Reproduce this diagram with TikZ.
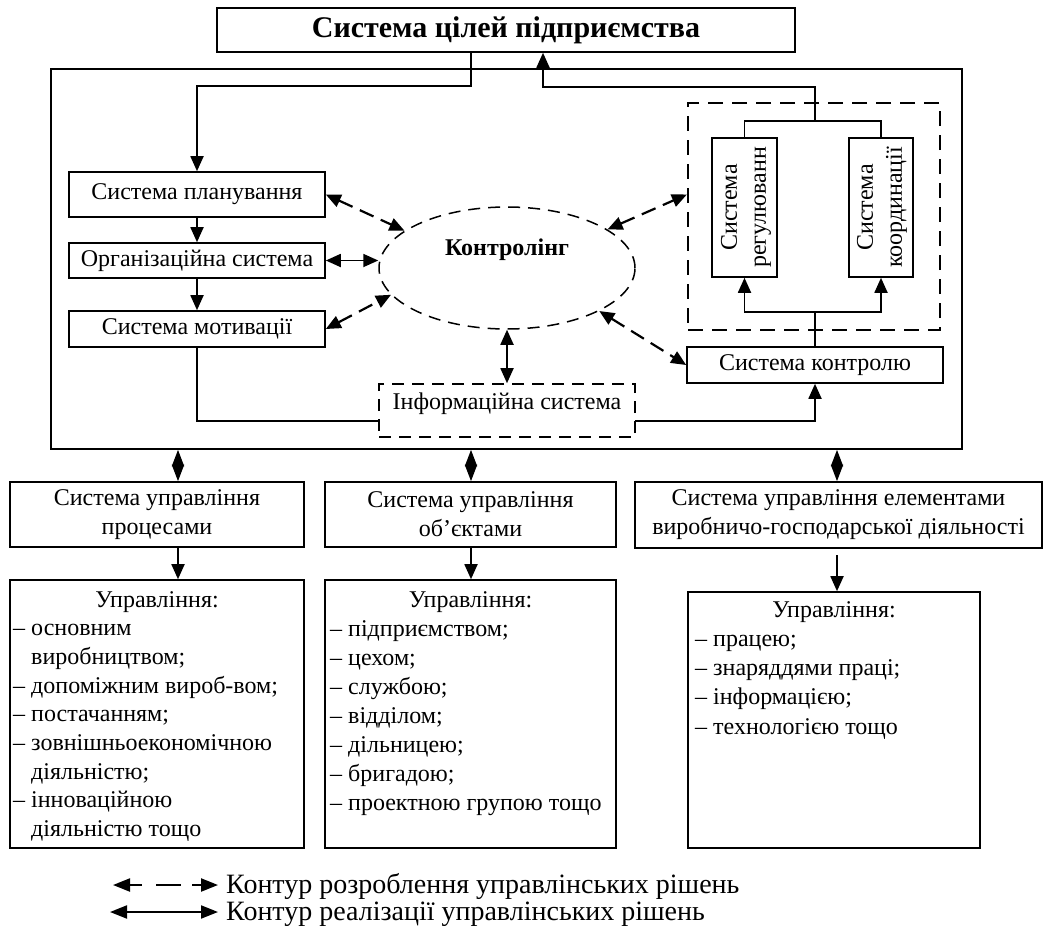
\documentclass[tikz,border=0pt]{standalone}
\usepackage{fontspec}
\setmainfont{Liberation Serif}
\usetikzlibrary{arrows.meta,shapes.geometric}
\begin{document}
\begin{tikzpicture}[x=1pt,y=-1pt,
  every node/.style={inner sep=0pt},
  txt/.style={font=\fontsize{24}{29}\selectfont},
  box/.style={draw, line width=1.6pt, txt, align=center},
  dashbox/.style={draw, line width=1.8pt, dash pattern=on 13pt off 8pt},
  ln/.style={line width=1.8pt},
  ar/.style={line width=1.8pt, -{Triangle[length=15pt,width=13pt]}},
  sar/.style={line width=1.8pt, {Triangle[length=15pt,width=13pt]}-{Triangle[length=15pt,width=13pt]}},
  dar/.style={line width=2.2pt, dash pattern=on 15pt off 8pt, {Triangle[length=15pt,width=13pt]}-{Triangle[length=15pt,width=13pt]}},
  dia/.style={line width=1.8pt, {Triangle[length=16.5pt,width=12pt]}-{Triangle[length=16.5pt,width=12pt]}},
  ldar/.style={line width=2.2pt, dash pattern=on 13pt off 14pt on 25pt off 11pt on 30pt, {Triangle[length=17pt,width=13pt]}-{Triangle[length=17pt,width=13pt]}},
  lsar/.style={line width=2pt, {Triangle[length=17pt,width=13pt]}-{Triangle[length=17pt,width=13pt]}}
]
\useasboundingbox (0,0) rectangle (1044,926);

% outer frame
\node[draw, line width=1.6pt, minimum width=911, minimum height=380] (outer) at (506.5,259) {};

% top goal box
\node[box, minimum width=578, minimum height=44, font=\bfseries\fontsize{30}{36}\selectfont] (goal) at (506,30) {Система цілей підприємства};

% left chain
\node[box, minimum width=256, minimum height=45] (plan) at (197,194.5) {Система планування};
\node[box, minimum width=256, minimum height=35] (org) at (197,260.5) {Організаційна система};
\node[box, minimum width=256, minimum height=36] (motiv) at (197,329) {Система мотивації};

% controlling ellipse
\node[draw, ellipse, line width=1.5pt, dash pattern=on 12pt off 8pt, minimum width=256, minimum height=122] (ctrl) at (507,268) {};
\node[font=\bfseries\fontsize{24}{29}\selectfont] (ctrlt) at (507,250) {Контролінг};

% information system
\node[dashbox, line width=1.6pt, dash pattern=on 12pt off 8pt, minimum width=256, minimum height=53] (info) at (507,410.5) {};
\node[txt] (infot) at (507,404) {Інформаційна система};

% control system
\node[box, minimum width=256, minimum height=36] (control) at (815,365) {Система контролю};

% dashed group with regulation and coordination
\node[dashbox, line width=2.2pt, dash pattern=on 15pt off 9pt, minimum width=252, minimum height=227] (group) at (814,216.5) {};
\node[box, minimum width=65, minimum height=139] (reg) at (744.5,207.5) {};
\node[txt, rotate=90, align=center] (regt) at (746,207.5) {Система\\регулюванн};
\node[box, minimum width=64, minimum height=139] (coord) at (881,207.5) {};
\node[txt, rotate=90, align=center] (coordt) at (882,207.5) {Система\\координації};

% coordinates for bends
\coordinate (gx1) at (471,0);
\coordinate (gx2) at (543,0);
\coordinate (tj) at (815,121);
\coordinate (cj) at (815,312);
\coordinate (iL) at (379,421);
\coordinate (iR) at (635,421);

% goal -> planning
\draw[ar] (goal.south -| gx1) -- (471,86) -| (plan.north);
\draw[ar] (plan) -- (org);
\draw[ar] (org) -- (motiv);
% motivation -> info
\draw[ln] (motiv.south) |- (iL);
% info -> control
\draw[ar] (iR) -| (control.south);
% control -> reg, coord
\draw[ln] (control.north) -- (cj);
\draw[ar] (cj) -| (reg.south);
\draw[ar] (cj) -| (coord.south);
% reg, coord -> goal
\draw[ln] (reg.north) |- (tj) -| (coord.north);
\draw[ar] (tj) -- (815,87) -| (goal.south -| gx2);

% controlling links
\draw[dar] (plan.east) -- (ctrl.160);
\draw[sar] (org.east) -- (org.east -| ctrl.west);
\draw[dar] (motiv.east) -- (ctrl.193);
\draw[sar] (ctrl.south) -- (info.north);
\draw[dar] (ctrl.21) -- (group.west |- plan.east);
\draw[dar] (ctrl.-25) -- (control.west);

% lower management systems
\node[box, minimum width=294, minimum height=65] (s1) at (157,514.5) {Система управління\\процесами};
\node[box, minimum width=291, minimum height=65] (s2) at (470.5,514.5) {Система управління\\об’єктами};
\node[box, minimum width=407, minimum height=66] (s3) at (838.5,515) {Система управління елементами\\виробничо-господарської діяльності};

\coordinate (bx1) at (178,0);
\coordinate (bx2) at (471,0);
\coordinate (bx3) at (837,0);
\coordinate (a3) at (837,555);

\draw[dia] (outer.south -| bx1) -- (s1.north -| bx1);
\draw[dia] (outer.south -| bx2) -- (s2.north -| bx2);
\draw[dia] (outer.south -| bx3) -- (s3.north -| bx3);

\node[draw, line width=1.6pt, minimum width=294, minimum height=268] (l1) at (157,714) {};
\node[draw, line width=1.6pt, minimum width=291, minimum height=268] (l2) at (470.5,714) {};
\node[draw, line width=1.6pt, minimum width=292, minimum height=256] (l3) at (834,720) {};

\draw[ar] (s1.south -| bx1) -- (l1.north -| bx1);
\draw[ar] (s2.south -| bx2) -- (l2.north -| bx2);
\draw[ar] (a3) -- (l3.north -| bx3);

% list texts
\node[txt, anchor=base] (h1) at (157,607) {Управління:};
\foreach \t [count=\i] in {{– основним},{\phantom{– }виробництвом;},{– допоміжним вироб-вом;},{– постачанням;},{– зовнішньоекономічною},{\phantom{– }діяльністю;},{– інноваційною},{\phantom{– }діяльністю тощо}}
  \node[txt, anchor=base west] (ia\i) at (13,607+28.7*\i) {\t};

\node[txt, anchor=base] (h2) at (470.5,607) {Управління:};
\foreach \t [count=\i] in {{– підприємством;},{– цехом;},{– службою;},{– відділом;},{– дільницею;},{– бригадою;},{– проектною групою тощо}}
  \node[txt, anchor=base west] (ib\i) at (330,607+29.1*\i) {\t};

\node[txt, anchor=base] (h3) at (834,617) {Управління:};
\foreach \t [count=\i] in {{– працею;},{– знаряддями праці;},{– інформацією;},{– технологією тощо}}
  \node[txt, anchor=base west] (ic\i) at (695,617+29.25*\i) {\t};

% legend
\coordinate (la1) at (113,885);
\coordinate (lb1) at (218,885);
\coordinate (la2) at (110,912);
\coordinate (lb2) at (218,912);
\draw[ldar] (la1) -- (lb1);
\draw[lsar] (la2) -- (lb2);
\node[anchor=base west, font=\fontsize{28}{33}\selectfont] (lt1) at (226,893) {Контур розроблення управлінських рішень};
\node[anchor=base west, font=\fontsize{28}{33}\selectfont] (lt2) at (226,920) {Контур реалізації управлінських рішень};
\end{tikzpicture}
\end{document}
